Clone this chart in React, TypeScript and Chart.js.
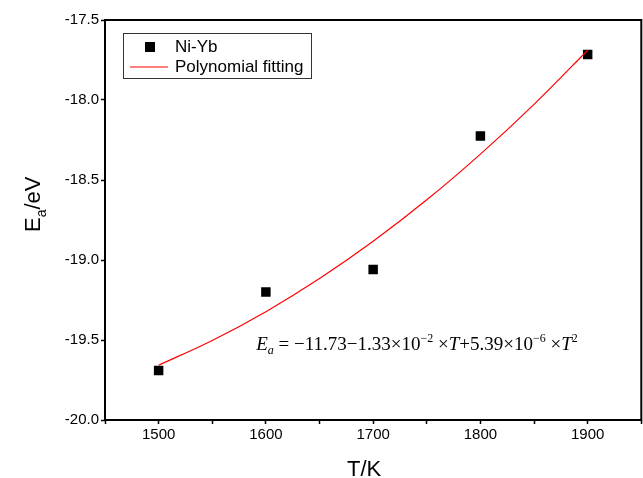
import React, { useEffect, useRef } from "react";
import { Chart, registerables } from "chart.js";

Chart.register(...registerables);

// ---- data ----
const TEMPERATURES = [1500, 1600, 1700, 1800, 1900];
const ACTIVATION_ENERGY = [-19.69, -19.2, -19.06, -18.225, -17.715];

const FIT_TEMPERATURES = [1500, 1550, 1600, 1650, 1700, 1750, 1800, 1850, 1900];
const FIT_ENERGY = [-19.658, -19.503, -19.323, -19.116, -18.883, -18.624, -18.338, -18.027, -17.689];

const SERIES_LABELS = ["Ni-Yb", "Polynomial fitting"];

const X_MIN = 1450;
const X_MAX = 1950;
const X_TICK_STEP = 50;
const X_LABEL_STEP = 100;
const Y_MIN = -20;
const Y_MAX = -17.5;
const Y_TICK_STEP = 0.5;

const X_TITLE = "T/K";
const Y_TITLE_MAIN = "E";
const Y_TITLE_SUB = "a";
const Y_TITLE_REST = "/eV";

// equation text pieces
const EQ_RUNS = [
  { text: "E", italic: true, kind: "base" },
  { text: "a", italic: true, kind: "sub" },
  { text: " = \u221211.73\u22121.33\u00d710", italic: false, kind: "base" },
  { text: "\u22122", italic: false, kind: "sup" },
  { text: " \u00d7", italic: false, kind: "base" },
  { text: "T", italic: true, kind: "base" },
  { text: "+5.39\u00d710", italic: false, kind: "base" },
  { text: "\u22126", italic: false, kind: "sup" },
  { text: " \u00d7", italic: false, kind: "base" },
  { text: "T", italic: true, kind: "base" },
  { text: "2", italic: false, kind: "sup" },
];
const EQ_ANCHOR_T = 1591;
const EQ_ANCHOR_E = -19.56;

const SANS = '"Liberation Sans", Arial, sans-serif';
const SERIF = '"Liberation Serif", "Times New Roman", serif';

const decorPlugin = {
  id: "decor",
  afterDatasetsDraw(chart: any) {
    const { ctx, chartArea: a, scales } = chart;
    ctx.save();

    // frame
    ctx.strokeStyle = "#000";
    ctx.lineWidth = 2;
    ctx.strokeRect(a.left, a.top, a.right - a.left, a.bottom - a.top);

    // legend
    const lx = a.left + 18;
    const ly = a.top + 13;
    ctx.lineWidth = 1;
    ctx.strokeStyle = "#333";
    ctx.strokeRect(Math.round(lx) + 0.5, Math.round(ly) + 0.5, 188, 45);
    ctx.fillStyle = "#000";
    ctx.fillRect(lx + 22, ly + 9, 10, 10);
    ctx.strokeStyle = "#ff0000";
    ctx.lineWidth = 1.2;
    ctx.beginPath();
    ctx.moveTo(lx + 7, ly + 34);
    ctx.lineTo(lx + 45, ly + 34);
    ctx.stroke();
    ctx.fillStyle = "#000";
    ctx.font = `17px ${SANS}`;
    ctx.textBaseline = "middle";
    ctx.textAlign = "left";
    ctx.fillText(SERIES_LABELS[0], lx + 52, ly + 14);
    ctx.fillText(SERIES_LABELS[1], lx + 52, ly + 34);

    // equation
    const base = 19;
    let x = scales.x.getPixelForValue(EQ_ANCHOR_T);
    const y = scales.y.getPixelForValue(EQ_ANCHOR_E);
    ctx.textBaseline = "alphabetic";
    for (const r of EQ_RUNS) {
      const size = r.kind === "base" ? base : 12;
      const dy = r.kind === "sub" ? 4 : r.kind === "sup" ? -8 : 0;
      ctx.font = `${r.italic ? "italic " : ""}${size}px ${SERIF}`;
      ctx.fillText(r.text, x, y + dy);
      x += ctx.measureText(r.text).width;
    }

    // x title
    ctx.font = `22px ${SANS}`;
    ctx.textAlign = "center";
    ctx.textBaseline = "alphabetic";
    ctx.fillText(X_TITLE, (a.left + a.right) / 2 - 9, 476);

    // y title (rotated)
    ctx.translate(40, 232);
    ctx.rotate(-Math.PI / 2);
    ctx.textAlign = "left";
    let tx = 0;
    ctx.font = `22px ${SANS}`;
    ctx.fillText(Y_TITLE_MAIN, tx, 0);
    tx += ctx.measureText(Y_TITLE_MAIN).width;
    ctx.font = `14px ${SANS}`;
    ctx.fillText(Y_TITLE_SUB, tx, 6);
    tx += ctx.measureText(Y_TITLE_SUB).width;
    ctx.font = `22px ${SANS}`;
    ctx.fillText(Y_TITLE_REST, tx, 0);

    ctx.restore();
  },
};

export default function App() {
  const ref = useRef<HTMLCanvasElement | null>(null);

  useEffect(() => {
    if (!ref.current) return;
    const chart = new Chart(ref.current, {
      type: "scatter",
      data: {
        datasets: [
          {
            label: SERIES_LABELS[1],
            data: FIT_TEMPERATURES.map((t, i) => ({ x: t, y: FIT_ENERGY[i] })),
            showLine: true,
            borderColor: "#ff0000",
            borderWidth: 1.2,
            pointRadius: 0,
            tension: 0.4,
            cubicInterpolationMode: "monotone",
          },
          {
            label: SERIES_LABELS[0],
            data: TEMPERATURES.map((t, i) => ({ x: t, y: ACTIVATION_ENERGY[i] })),
            showLine: false,
            pointStyle: "rect",
            pointRadius: 6.7,
            pointBorderWidth: 0,
            backgroundColor: "#000",
            borderColor: "#000",
          },
        ],
      },
      options: {
        responsive: false,
        animation: false,
        layout: { padding: { left: 0, right: 0, top: 20, bottom: 0 } },
        plugins: {
          legend: { display: false },
          tooltip: { enabled: false },
        },
        scales: {
          x: {
            type: "linear",
            min: X_MIN,
            max: X_MAX,
            border: { display: false },
            grid: {
              drawOnChartArea: false,
              drawTicks: true,
              tickLength: 4,
              tickWidth: 1.5,
              color: "#000",
            },
            ticks: {
              stepSize: X_TICK_STEP,
              autoSkip: false,
              maxRotation: 0,
              padding: 2,
              color: "#000",
              font: { family: SANS, size: 15 },
              callback: (v: any) => (Number(v) % X_LABEL_STEP === 0 ? String(v) : ""),
            },
            afterFit: (s: any) => {
              s.height = 58;
            },
          },
          y: {
            type: "linear",
            min: Y_MIN,
            max: Y_MAX,
            border: { display: false },
            grid: {
              drawOnChartArea: false,
              drawTicks: true,
              tickLength: 4,
              tickWidth: 1.5,
              color: "#000",
            },
            ticks: {
              stepSize: Y_TICK_STEP,
              padding: 2,
              color: "#000",
              font: { family: SANS, size: 15 },
              callback: (v: any) => Number(v).toFixed(1),
            },
            afterFit: (s: any) => {
              s.width = 105;
            },
          },
        },
      },
      plugins: [decorPlugin],
    });
    return () => chart.destroy();
  }, []);

  return (
    <div style={{ position: "fixed", left: 0, top: 0, width: 643, height: 478, overflow: "hidden" }}>
      <canvas
        ref={ref}
        width={648}
        height={478}
        style={{ display: "block", width: 648, height: 478 }}
      />
    </div>
  );
}
